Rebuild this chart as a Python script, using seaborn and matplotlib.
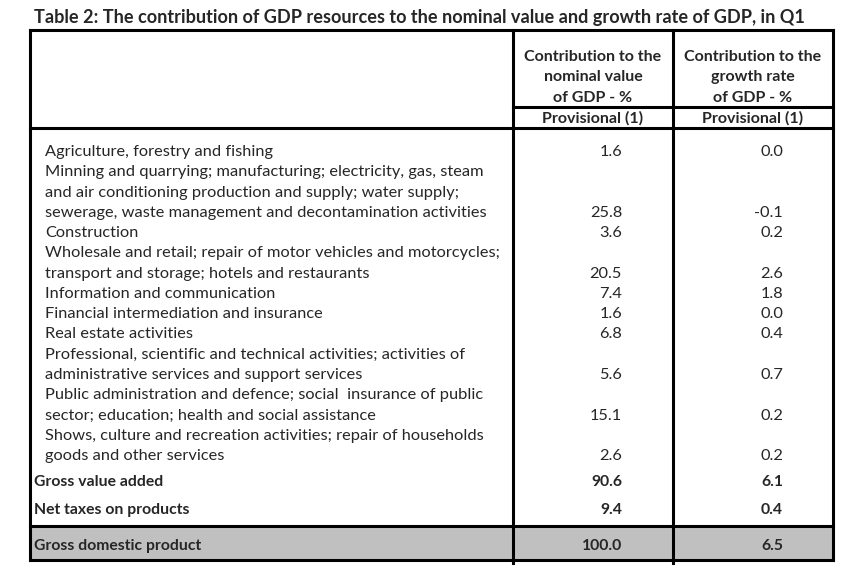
import matplotlib
matplotlib.use("Agg")
import matplotlib.pyplot as plt
import seaborn as sns

# ---------------- data ----------------
title = "Table 2: The contribution of GDP resources to the nominal value and growth rate of GDP, in Q1"
col_headers = ["Contribution to the\nnominal value\nof GDP - %",
               "Contribution to the\ngrowth rate\nof GDP - %"]
sub_header = "Provisional (1)"
categories = [
    "Agriculture, forestry and fishing",
    "Minning and quarrying; manufacturing; electricity, gas, steam\nand air conditioning production and supply; water supply;\nsewerage, waste management and decontamination activities",
    "Construction",
    "Wholesale and retail; repair of motor vehicles and motorcycles;\ntransport and storage; hotels and restaurants",
    "Information and communication",
    "Financial intermediation and insurance",
    "Real estate activities",
    "Professional, scientific and technical activities; activities of\nadministrative services and support services",
    "Public administration and defence; social  insurance of public\nsector; education; health and social assistance",
    "Shows, culture and recreation activities; repair of households\ngoods and other services",
]
nominal = [1.6, 25.8, 3.6, 20.5, 7.4, 1.6, 6.8, 5.6, 15.1, 2.6]
growth = [0.0, -0.1, 0.2, 2.6, 1.8, 0.0, 0.4, 0.7, 0.2, 0.2]
total_labels = ["Gross value added", "Net taxes on products", "Gross domestic product"]
total_nominal = [90.6, 9.4, 100.0]
total_growth = [6.1, 0.4, 6.5]

# ---------------- style ----------------
sns.set_theme(style="white")
plt.rcParams["font.family"] = ["Lato", "DejaVu Sans"]

W, H = 864, 570
fig = plt.figure(figsize=(W / 100, H / 100), dpi=100)
ax = fig.add_axes([0, 0, 1, 1])
ax.set_xlim(0, W)
ax.set_ylim(H, 0)
ax.axis("off")
renderer = fig.canvas.get_renderer()


def fit_size(s, target_px, weight="normal", base=10.0):
    t = ax.text(0, 0, s, fontsize=base, fontweight=weight)
    w = t.get_window_extent(renderer).width
    t.remove()
    return base * target_px / w


# geometry (pixels)
x_left, x_c1, x_c2, x_right = 30, 513, 673, 833
y_top, y_sub, y_head, y_gdp, y_bot = 30, 107, 128, 526, 560
lw = 2.2

# gray GDP row
ax.fill_between([x_left, x_right], y_gdp, y_bot, color="#c0c0c0", lw=0, zorder=0)

# borders
for y in (y_top, y_head, y_gdp, y_bot):
    ax.plot([x_left, x_right], [y, y], color="black", lw=lw, solid_capstyle="projecting")
ax.plot([x_c1, x_right], [y_sub, y_sub], color="black", lw=lw, solid_capstyle="projecting")
for x in (x_left, x_right):
    ax.plot([x, x], [y_top, y_bot], color="black", lw=lw, solid_capstyle="projecting")
for x in (x_c1, x_c2):
    ax.plot([x, x], [y_top, y_bot + 3], color="black", lw=lw, solid_capstyle="projecting")

# font sizes
fs_title = fit_size(title, 771, "bold")
fs_head = fit_size("Contribution to the", 138, "bold")
fs_body = fit_size("sewerage, waste management and decontamination activities", 439)
fs_bold = fit_size("Gross domestic product", 168, "bold")

ax.text(34, 23, title, fontsize=fs_title, fontweight="bold", va="baseline", ha="left")

# headers
cx = [(x_c1 + x_c2) / 2, (x_c2 + x_right) / 2]
head_base = [61, 81, 102]
for c, h in zip(cx, col_headers):
    for yy, line in zip(head_base, h.split("\n")):
        ax.text(c, yy, line, fontsize=fs_head, fontweight="bold", ha="center", va="baseline")
    ax.text(c, 123, sub_header, fontsize=fs_head, fontweight="bold", ha="center", va="baseline")

# body rows (baselines)
r1, r2 = 622, 783
step = 20.27
y0 = 156
k = 0
for lab, v1, v2 in zip(categories, nominal, growth):
    lines = lab.split("\n")
    for line in lines:
        ax.text(45, y0 + step * k, line, fontsize=fs_body, ha="left", va="baseline")
        k += 1
    yv = y0 + step * (k - 1)
    ax.text(r1, yv, f"{v1:.1f}", fontsize=fs_body, ha="right", va="baseline")
    ax.text(r2, yv, f"{v2:.1f}", fontsize=fs_body, ha="right", va="baseline")

for yy, lab, v1, v2 in zip([486, 514, 550], total_labels, total_nominal, total_growth):
    ax.text(34, yy, lab, fontsize=fs_bold, fontweight="bold", ha="left", va="baseline")
    ax.text(r1, yy, f"{v1:.1f}", fontsize=fs_bold, fontweight="bold", ha="right", va="baseline")
    ax.text(r2, yy, f"{v2:.1f}", fontsize=fs_bold, fontweight="bold", ha="right", va="baseline")

fig.savefig("out.png", dpi=100, facecolor="white")
